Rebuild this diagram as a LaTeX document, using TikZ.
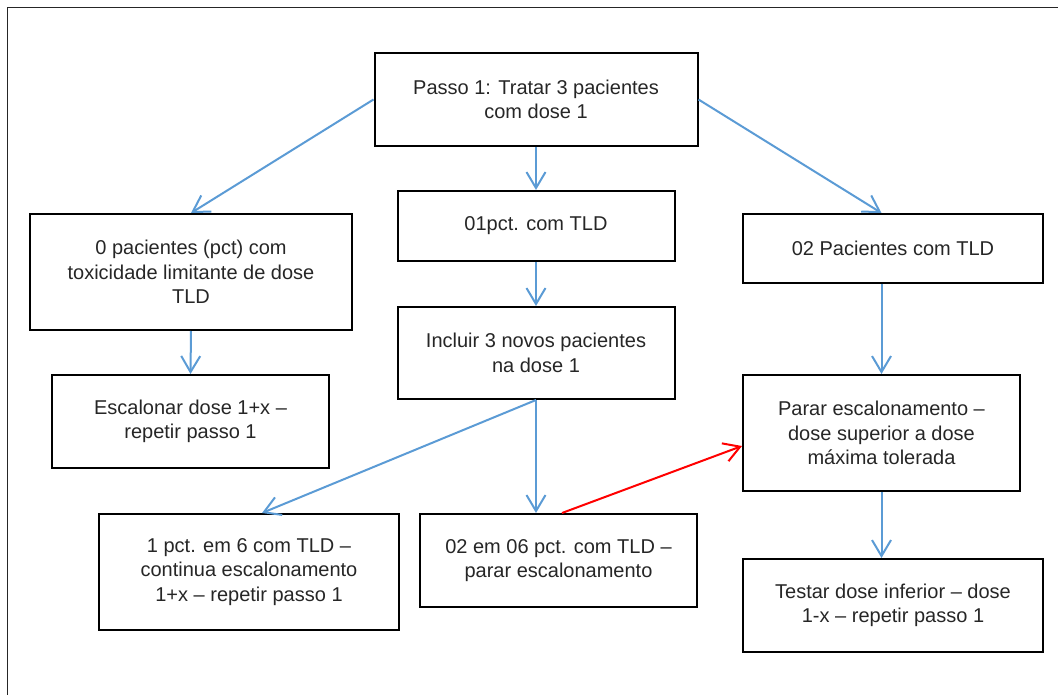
\documentclass[tikz,border=0pt]{standalone}
\usepackage{fontspec}
\setmainfont{Liberation Sans}
\usetikzlibrary{arrows.meta,calc}

\definecolor{flowblue}{RGB}{91,155,213}
\definecolor{textgray}{RGB}{38,38,38}

\begin{document}
\begin{tikzpicture}[x=1pt, y=-1pt,
    box/.style={draw=black, line width=2pt, align=center, inner sep=0pt,
      text=textgray, font=\fontsize{20}{24.5}\selectfont},
    flow/.style={draw=flowblue, line width=2pt,
      -{Straight Barb[length=16pt, width=19pt]}},
    redflow/.style={flow, draw=red}]
    \useasboundingbox (0,0) rectangle (1058,695);

    % Outer frame
    \draw[black!85, line width=1pt] (7.5,695) -- (7.5,7.5) -- (1058,7.5);

    % First step
    \node[box, minimum width=323pt, minimum height=93pt]
      (passo) at (536, 99.5)
      {Passo 1: Tratar 3 pacientes\\com dose 1};

    % Outcomes of the first step
    \node[box, minimum width=322pt, minimum height=116pt]
      (zero) at (191, 272)
      {0 pacientes (pct) com\\toxicidade limitante de dose\\TLD};
    \node[box, minimum width=277pt, minimum height=70pt]
      (umtld) at (536, 226)
      {01pct. com TLD};
    \node[box, minimum width=300pt, minimum height=69pt]
      (doistld) at (893, 248.5)
      {02 Pacientes com TLD};

    % Second level
    \node[box, minimum width=277pt, minimum height=93pt]
      (escalonar) at (190.5, 421.5)
      {Escalonar dose 1+x --\\repetir passo 1};
    \node[box, minimum width=277pt, minimum height=92pt]
      (incluir) at (536, 353)
      {Incluir 3 novos pacientes\\na dose 1};
    \node[box, minimum width=277pt, minimum height=116pt]
      (parar) at (881.5, 433)
      {Parar escalonamento --\\dose superior a dose\\máxima tolerada};

    % Third level
    \node[box, minimum width=300pt, minimum height=116pt]
      (umemseis) at (249, 572)
      {1 pct. em 6 com TLD --\\continua escalonamento\\1+x -- repetir passo 1};
    \node[box, minimum width=277pt, minimum height=93pt]
      (doisemseis) at (558.5, 560.5)
      {02 em 06 pct. com TLD --\\parar escalonamento};
    \node[box, minimum width=300pt, minimum height=93pt]
      (testar) at (893, 605.5)
      {Testar dose inferior -- dose\\1-x -- repetir passo 1};

    % Connectors
    \draw[flow] (passo.west) -- (zero.north);
    \draw[flow] (passo.south) -- (umtld.north);
    \draw[flow] (passo.east) -- (parar.north |- doistld.north);
    \draw[flow] (zero.south) -- (escalonar.north);
    \draw[flow] (umtld.south) -- (incluir.north);
    \draw[flow] (incluir.south) -- ($(umemseis.north)+(13,0)$);
    \draw[flow] (incluir.south) -- (incluir.south |- doisemseis.north);
    \draw[flow] (parar.north |- doistld.south) -- (parar.north);
    \draw[flow] (parar.south) -- (parar.south |- testar.north);
    \draw[redflow] ($(doisemseis.north)+(3.5,0)$) -- ($(parar.west)+(0,13)$);
  \end{tikzpicture}
\end{document}
